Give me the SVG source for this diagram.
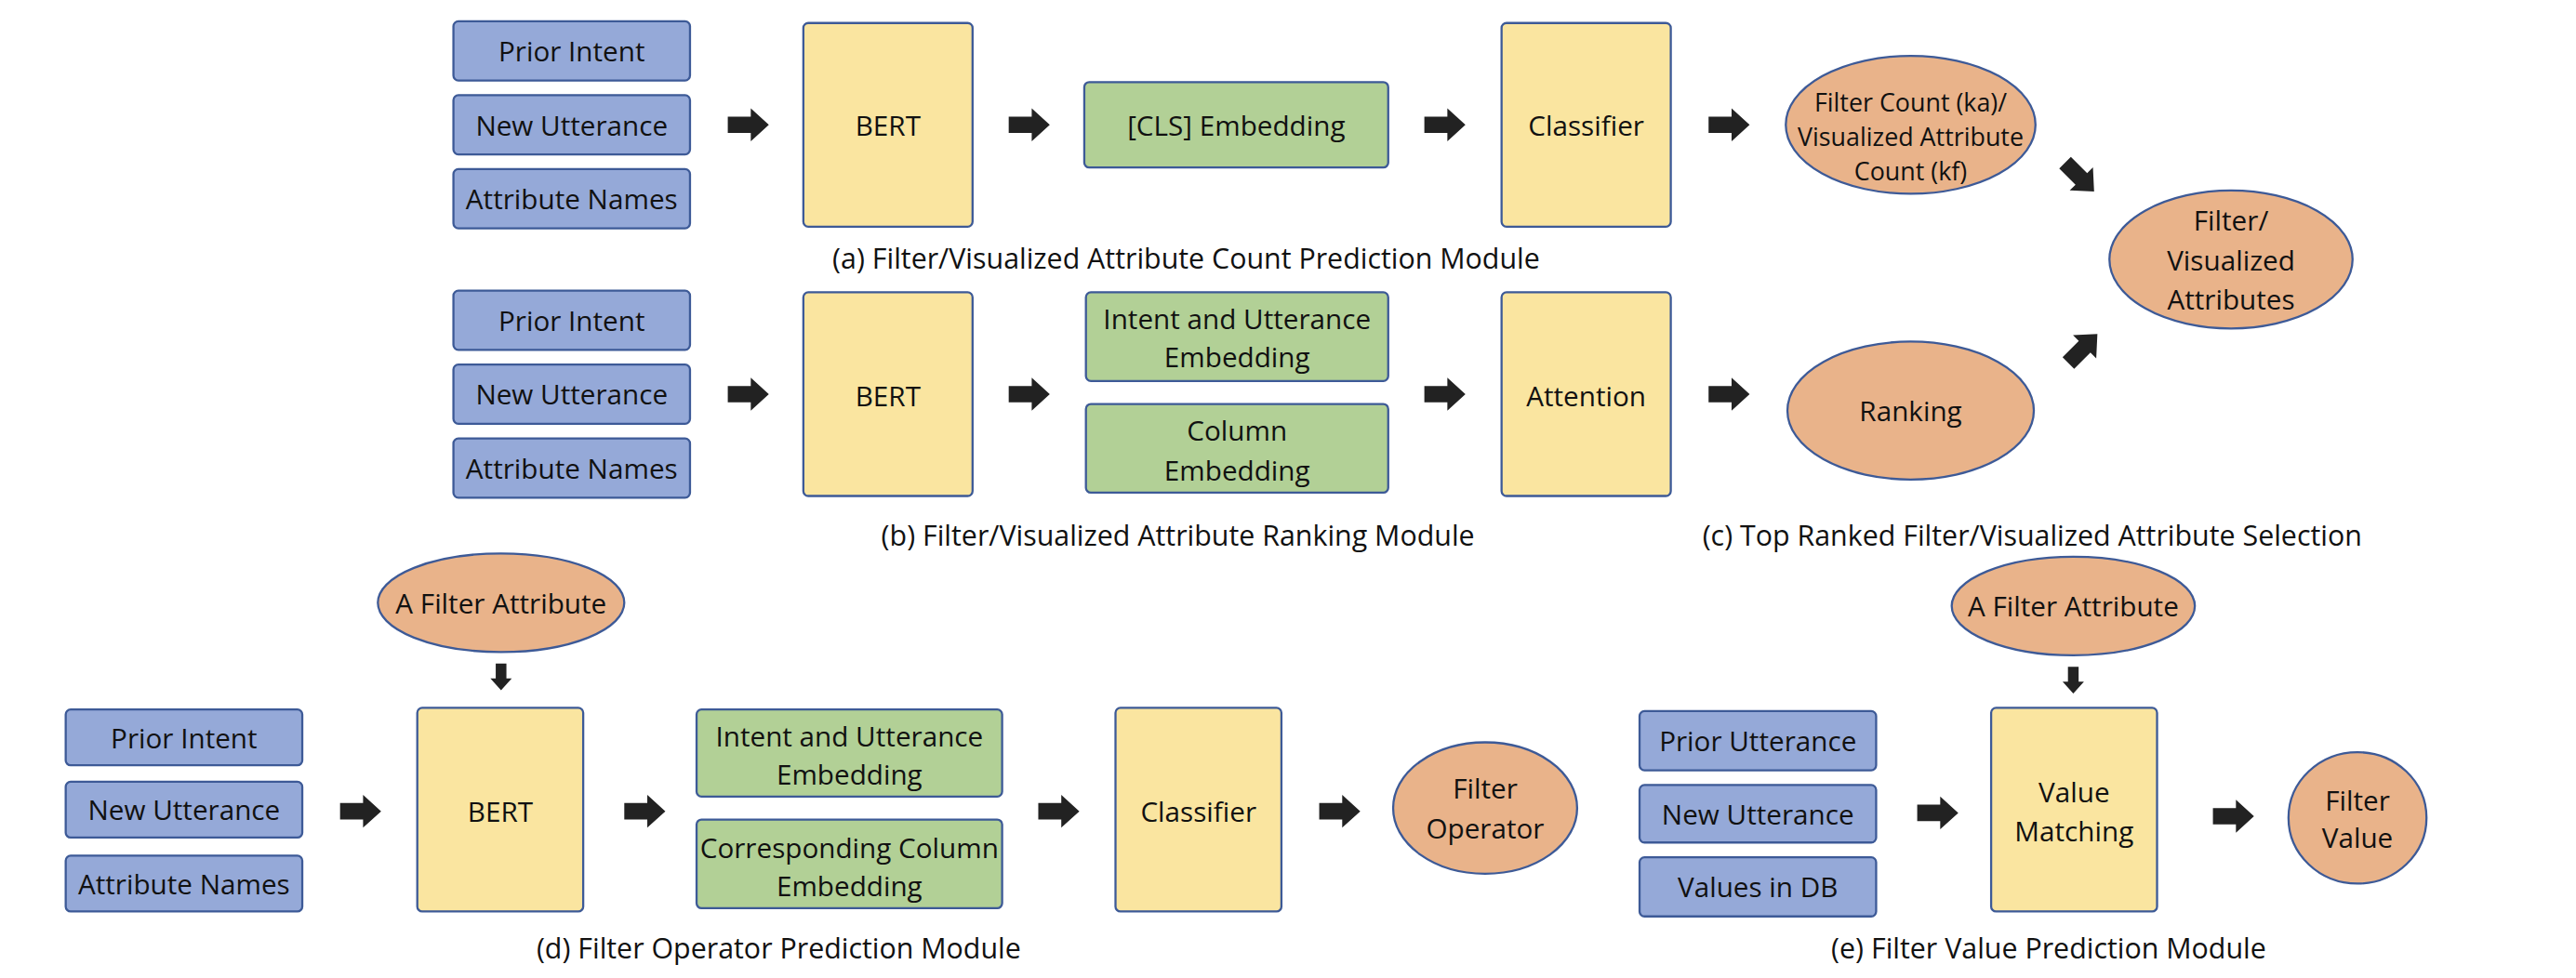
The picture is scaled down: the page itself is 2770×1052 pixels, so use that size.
<svg xmlns="http://www.w3.org/2000/svg" xmlns:xlink="http://www.w3.org/1999/xlink" width="2770" height="1052" viewBox="0 0 2770 1052">
<style>
text{font-family:"Open Sans","Liberation Sans",sans-serif;fill:#111;text-anchor:middle;dominant-baseline:central}
.t{font-size:16.8px}
.s{font-size:15.2px}
.cap{font-size:17.2px}
.b{fill:#95a9d8;stroke:#3d5a97;stroke-width:1.3}
.y{fill:#fae5a0;stroke:#3d5a97;stroke-width:1.3}
.g{fill:#b2d096;stroke:#3d5a97;stroke-width:1.3}
.o{fill:#e9b38a;stroke:#3d5a97;stroke-width:1.3}
.ar{fill:#222}
</style>
<defs>
<path id="arr" class="ar" d="M0,-5 H14 V-10 L25,0 L14,10 V5 H0 Z"/>
</defs>
<rect width="2770" height="1052" fill="#fff"/>
<g transform="scale(1.76658)">
<!-- Row a -->
<g id="a_prior"><rect class="b" x="276" y="13" width="144" height="36" rx="3"/><text class="t" x="348" y="31">Prior Intent</text></g>
<g id="a_new"><rect class="b" x="276" y="58" width="144" height="36" rx="3"/><text class="t" x="348" y="76">New Utterance</text></g>
<g id="a_attr"><rect class="b" x="276" y="103" width="144" height="36" rx="3"/><text class="t" x="348" y="121">Attribute Names</text></g>
<g id="a_bert"><rect class="y" x="489" y="14" width="103" height="124" rx="3"/><text class="t" x="540.5" y="76">BERT</text></g>
<g id="a_cls"><rect class="g" x="660" y="50" width="185" height="52" rx="3"/><text class="t" x="752.5" y="76">[CLS] Embedding</text></g>
<g id="a_clf"><rect class="y" x="914" y="14" width="103" height="124" rx="3"/><text class="t" x="965.5" y="76">Classifier</text></g>
<g id="a_count"><ellipse class="o" cx="1163" cy="76" rx="76" ry="42"/><text class="s" x="1163" y="62">Filter Count (ka)/</text><text class="s" x="1163" y="83">Visualized Attribute</text><text class="s" x="1163" y="104">Count (kf)</text></g>
<g id="c_attrs"><ellipse class="o" cx="1358" cy="158" rx="74" ry="42"/><text class="t" x="1358" y="134">Filter/</text><text class="t" x="1358" y="158">Visualized</text><text class="t" x="1358" y="182">Attributes</text></g>
<text class="cap" x="722" y="157">(a) Filter/Visualized Attribute Count Prediction Module</text>
<!-- Row b -->
<g id="b_prior"><rect class="b" x="276" y="177" width="144" height="36" rx="3"/><text class="t" x="348" y="195">Prior Intent</text></g>
<g id="b_new"><rect class="b" x="276" y="222" width="144" height="36" rx="3"/><text class="t" x="348" y="240">New Utterance</text></g>
<g id="b_attr"><rect class="b" x="276" y="267" width="144" height="36" rx="3"/><text class="t" x="348" y="285">Attribute Names</text></g>
<g id="b_bert"><rect class="y" x="489" y="178" width="103" height="124" rx="3"/><text class="t" x="540.5" y="241">BERT</text></g>
<g id="b_iu"><rect class="g" x="661" y="178" width="184" height="54" rx="3"/><text class="t" x="753" y="194">Intent and Utterance</text><text class="t" x="753" y="217">Embedding</text></g>
<g id="b_col"><rect class="g" x="661" y="246" width="184" height="54" rx="3"/><text class="t" x="753" y="262">Column</text><text class="t" x="753" y="286">Embedding</text></g>
<g id="b_att"><rect class="y" x="914" y="178" width="103" height="124" rx="3"/><text class="t" x="965.5" y="241">Attention</text></g>
<g id="b_rank"><ellipse class="o" cx="1163" cy="250" rx="75" ry="42"/><text class="t" x="1163" y="250">Ranking</text></g>
<text class="cap" x="717" y="326">(b) Filter/Visualized Attribute Ranking Module</text>
<text class="cap" x="1237" y="326">(c) Top Ranked Filter/Visualized Attribute Selection</text>
<!-- Row d -->
<g id="d_fa"><ellipse class="o" cx="305" cy="367" rx="75" ry="30"/><text class="t" x="305" y="367">A Filter Attribute</text></g>
<g id="d_prior"><rect class="b" x="40" y="432" width="144" height="34" rx="3"/><text class="t" x="112" y="449">Prior Intent</text></g>
<g id="d_new"><rect class="b" x="40" y="476" width="144" height="34" rx="3"/><text class="t" x="112" y="493">New Utterance</text></g>
<g id="d_attr"><rect class="b" x="40" y="521" width="144" height="34" rx="3"/><text class="t" x="112" y="538">Attribute Names</text></g>
<g id="d_bert"><rect class="y" x="254" y="431" width="101" height="124" rx="3"/><text class="t" x="304.5" y="494">BERT</text></g>
<g id="d_iu"><rect class="g" x="424" y="432" width="186" height="53" rx="3"/><text class="t" x="517" y="448">Intent and Utterance</text><text class="t" x="517" y="471">Embedding</text></g>
<g id="d_col"><rect class="g" x="424" y="499" width="186" height="54" rx="3"/><text class="t" x="517" y="516">Corresponding Column</text><text class="t" x="517" y="539">Embedding</text></g>
<g id="d_clf"><rect class="y" x="679" y="431" width="101" height="124" rx="3"/><text class="t" x="729.5" y="494">Classifier</text></g>
<g id="d_op"><ellipse class="o" cx="904" cy="492" rx="56" ry="40"/><text class="t" x="904" y="480">Filter</text><text class="t" x="904" y="504">Operator</text></g>
<text class="cap" x="474" y="577">(d) Filter Operator Prediction Module</text>
<!-- Row e -->
<g id="e_fa"><ellipse class="o" cx="1262" cy="369" rx="74" ry="30"/><text class="t" x="1262" y="369">A Filter Attribute</text></g>
<g id="e_prior"><rect class="b" x="998" y="433" width="144" height="36" rx="3"/><text class="t" x="1070" y="451">Prior Utterance</text></g>
<g id="e_new"><rect class="b" x="998" y="478" width="144" height="35" rx="3"/><text class="t" x="1070" y="495.5">New Utterance</text></g>
<g id="e_vals"><rect class="b" x="998" y="522" width="144" height="36" rx="3"/><text class="t" x="1070" y="540">Values in DB</text></g>
<g id="e_vm"><rect class="y" x="1212" y="431" width="101" height="124" rx="3"/><text class="t" x="1262.5" y="482">Value</text><text class="t" x="1262.5" y="506">Matching</text></g>
<g id="e_fv"><ellipse class="o" cx="1435" cy="498" rx="42" ry="40"/><text class="t" x="1435" y="487">Filter</text><text class="t" x="1435" y="510">Value</text></g>
<text class="cap" x="1247" y="577">(e) Filter Value Prediction Module</text>
<!-- connectors -->
<g id="connectors">
<use xlink:href="#arr" href="#arr" transform="translate(443,76)"/>
<use xlink:href="#arr" href="#arr" transform="translate(614,76)"/>
<use xlink:href="#arr" href="#arr" transform="translate(867,76)"/>
<use xlink:href="#arr" href="#arr" transform="translate(1040,76)"/>
<use xlink:href="#arr" href="#arr" transform="translate(1257,99) rotate(45)"/>
<use xlink:href="#arr" href="#arr" transform="translate(443,240)"/>
<use xlink:href="#arr" href="#arr" transform="translate(614,240)"/>
<use xlink:href="#arr" href="#arr" transform="translate(867,240)"/>
<use xlink:href="#arr" href="#arr" transform="translate(1040,240)"/>
<use xlink:href="#arr" href="#arr" transform="translate(1259,221) rotate(-45)"/>
<use xlink:href="#arr" href="#arr" transform="translate(305,404) rotate(90) scale(0.65)"/>
<use xlink:href="#arr" href="#arr" transform="translate(207,494)"/>
<use xlink:href="#arr" href="#arr" transform="translate(380,494)"/>
<use xlink:href="#arr" href="#arr" transform="translate(632,494)"/>
<use xlink:href="#arr" href="#arr" transform="translate(803,494)"/>
<use xlink:href="#arr" href="#arr" transform="translate(1262,406) rotate(90) scale(0.65)"/>
<use xlink:href="#arr" href="#arr" transform="translate(1167,495)"/>
<use xlink:href="#arr" href="#arr" transform="translate(1347,497)"/>
</g>
</g>
</svg>
